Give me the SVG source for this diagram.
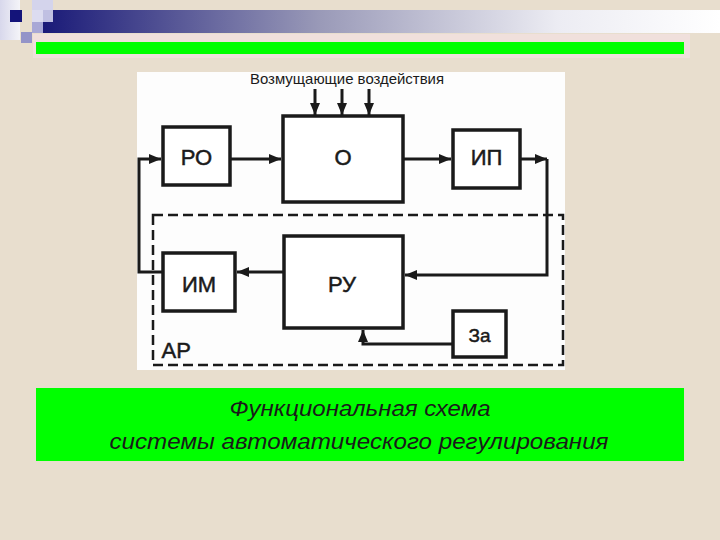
<svg xmlns="http://www.w3.org/2000/svg" width="720" height="540" viewBox="0 0 720 540">
<defs>
<linearGradient id="hdr" gradientUnits="userSpaceOnUse" x1="43" y1="0" x2="720" y2="0">
<stop offset="0" stop-color="#1a1a78"/>
<stop offset="0.41" stop-color="#9a9ab8"/>
<stop offset="0.76" stop-color="#ececf3"/>
<stop offset="1" stop-color="#ffffff"/>
</linearGradient>
<linearGradient id="col" x1="0" y1="0" x2="1" y2="0">
<stop offset="0" stop-color="#d8d8ec"/>
<stop offset="1" stop-color="#f4f4f8"/>
</linearGradient>
<marker id="ah" viewBox="0 0 12 10" refX="12" refY="5" markerWidth="12" markerHeight="10" markerUnits="userSpaceOnUse" orient="auto">
<path d="M0,0 L12,5 L0,10 z" fill="#1a1a1a"/>
</marker>
</defs>
<style>
.box{fill:#ffffff;stroke:#1a1a1a;stroke-width:3.5}
.lbl{font-family:"Liberation Sans",Arial,sans-serif;font-size:22px;fill:#1a1a1a;stroke:#1a1a1a;stroke-width:0.5;text-anchor:middle}
.con{fill:none;stroke:#1a1a1a;stroke-width:3;marker-end:url(#ah)}
.cap{font-family:"Liberation Sans",Arial,sans-serif;font-size:22px;font-style:italic;fill:#1a1a1a;text-anchor:middle}
</style>
<rect width="720" height="540" fill="#e8dece"/>
<g id="header">
<rect x="0" y="0" width="20" height="40" fill="url(#col)"/>
<rect x="33" y="34" width="657" height="24" fill="#f0e0dc"/>
<rect x="43" y="10" width="677" height="23" fill="url(#hdr)"/>
<rect x="32" y="0" width="21" height="10" fill="#d4d4ec"/>
<rect x="32" y="10" width="11" height="12" fill="#dcdcf0"/>
<rect x="43" y="10" width="10" height="12" fill="#c0c0e2"/>
<rect x="32" y="22" width="11" height="11" fill="#a8a8d6"/>
<rect x="21" y="32" width="11" height="11" fill="#9494c8"/>
<rect x="10" y="10" width="12" height="12" fill="#14147a"/>
<rect x="36" y="42" width="648" height="12" fill="#00ff00"/>
</g>
<rect id="panel" x="137" y="72" width="428" height="298" fill="#fdfdfd"/>
<g id="AR">
<rect x="153" y="215" width="410" height="150" fill="none" stroke="#1a1a1a" stroke-width="2.5" stroke-dasharray="10 5"/>
<text x="161.5" y="358" font-family="Liberation Sans,Arial,sans-serif" font-size="22" fill="#1a1a1a" stroke="#1a1a1a" stroke-width="0.5">АР</text>
</g>
<text id="disturb" x="347" y="84" font-family="Liberation Sans,Arial,sans-serif" font-size="15" fill="#1a1a1a" text-anchor="middle" textLength="194" lengthAdjust="spacingAndGlyphs">Возмущающие воздействия</text>
<g id="connectors">
<path class="con" d="M315,89 V115"/>
<path class="con" d="M342,89 V115"/>
<path class="con" d="M369,89 V115"/>
<path class="con" d="M163,272 H139 V159 H161"/>
<path class="con" d="M230,159 H281"/>
<path class="con" d="M403,159 H451"/>
<path class="con" d="M520,159 H547"/>
<path class="con" d="M547,159 V275 H405"/>
<path class="con" d="M284,272 H237"/>
<path class="con" d="M453,344 H363 V330"/>
</g>
<g id="RO"><rect class="box" x="163" y="127" width="67" height="58"/><text class="lbl" x="196.5" y="165">РО</text></g>
<g id="O"><rect class="box" x="283" y="116" width="120" height="86"/><text class="lbl" x="343" y="165">О</text></g>
<g id="IP"><rect class="box" x="453" y="130" width="67" height="58"/><text class="lbl" x="486.5" y="165">ИП</text></g>
<g id="IM"><rect class="box" x="163" y="253" width="72" height="58"/><text class="lbl" x="199" y="292">ИМ</text></g>
<g id="RU"><rect class="box" x="284" y="236" width="119" height="92"/><text class="lbl" x="342" y="292">РУ</text></g>
<g id="Za"><rect class="box" x="453" y="311" width="53" height="46"/><text class="lbl" x="479.5" y="342" style="font-size:19px">За</text></g>
<g id="caption">
<rect x="36" y="388" width="648" height="73" fill="#00ff00"/>
<text class="cap" x="360" y="416" textLength="261" lengthAdjust="spacingAndGlyphs">Функциональная схема</text>
<text class="cap" x="359" y="449" textLength="499" lengthAdjust="spacingAndGlyphs">системы автоматического регулирования</text>
</g>
</svg>
